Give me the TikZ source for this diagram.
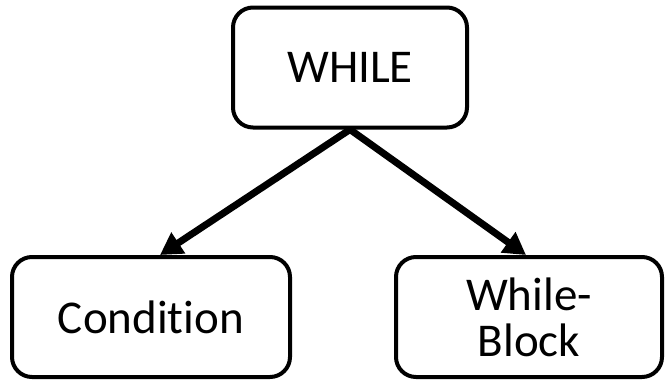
\documentclass[tikz,border=0pt]{standalone}
\usepackage{fontspec}
\setmainfont[Ligatures=NoCommon]{Carlito}
\usetikzlibrary{arrows.meta}
\begin{document}
\begin{tikzpicture}[x=1pt,y=-1pt,
  treebox/.style={draw=black,line width=4pt,rounded corners=20pt,fill=white,
    align=center,inner sep=0pt,font=\fontsize{47}{46}\selectfont},
  link/.style={line width=7pt,-{Triangle[length=22pt,width=24pt]}}]
  \useasboundingbox (0,0) rectangle (666,380);
  \node[treebox,minimum width=234pt,minimum height=120pt] (while) at (350,67.5) {WHILE};
  \node[treebox,minimum width=278pt,minimum height=120pt] (cond) at (151,317) {Condition};
  \node[treebox,minimum width=266pt,minimum height=120pt] (block) at (529,317) {While-\\Block};
  \draw[link] (while.south) -- ([xshift=150pt]cond.north west);
  \draw[link] (while.south) -- ([xshift=132pt]block.north west);
\end{tikzpicture}
\end{document}
